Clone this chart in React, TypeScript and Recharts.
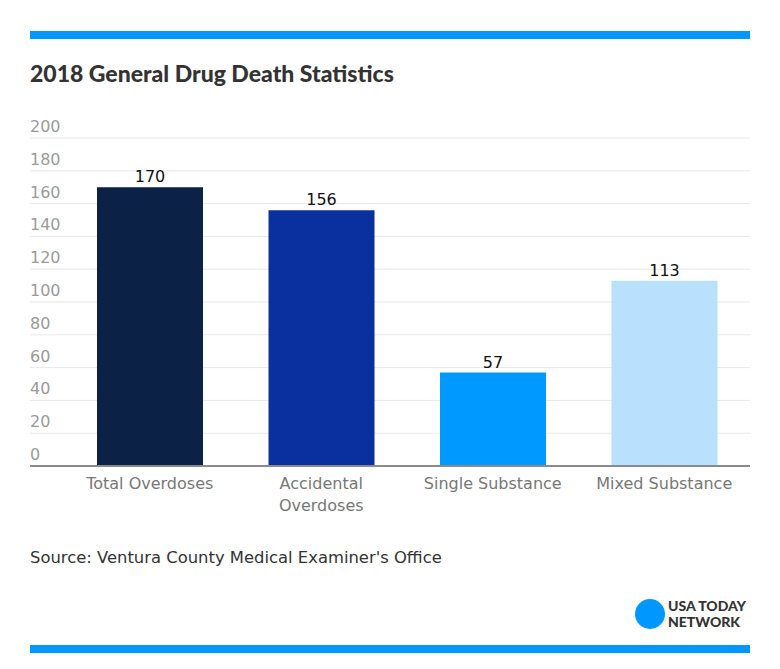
import { BarChart, Bar, XAxis, YAxis, CartesianGrid, LabelList, Cell } from 'recharts';

const categories = ['Total Overdoses', 'Accidental Overdoses', 'Single Substance', 'Mixed Substance'];
const deaths = [170, 156, 57, 113];
const barColors = ['#0c2146', '#0a30a0', '#0099ff', '#b9e0fc'];
const yTicks = [0, 20, 40, 60, 80, 100, 120, 140, 160, 180, 200];

const data = categories.map((name, i) => ({ name, deaths: deaths[i] }));

const FONT = '"DejaVu Sans", sans-serif';

function YTick(props: any) {
  const { y, payload } = props;
  return (
    <text x={30} y={y - 6} textAnchor="start" fill="#9a9a9a" fontSize={16} fontFamily={FONT}>
      {payload.value}
    </text>
  );
}

// wrap long labels at the first space
function wrap(label: string): string[] {
  if (label.length <= 17) return [label];
  const i = label.indexOf(' ');
  return [label.slice(0, i), label.slice(i + 1)];
}

function XTick(props: any) {
  const { x, y, payload } = props;
  const lines = wrap(String(payload.value));
  return (
    <text x={x} y={y + 15} textAnchor="middle" fill="#777" fontSize={16} fontFamily={FONT}>
      {lines.map((l, i) => (
        <tspan key={i} x={x} dy={i === 0 ? 0 : 22}>{l}</tspan>
      ))}
    </text>
  );
}

const logoText = { position: 'absolute' as const, left: 668, fontSize: 14, fontWeight: 900, lineHeight: '14px', color: '#333', fontFamily: 'Lato, sans-serif' };

export default function App() {
  return (
    <div style={{ position: 'absolute', left: 0, top: 0, width: 780, height: 669, background: '#fff', fontFamily: FONT }}>
      <div style={{ position: 'absolute', left: 30, top: 31, width: 720, height: 8, background: '#0098fe' }} />
      <div style={{ position: 'absolute', left: 30, top: 59, fontSize: 23, fontWeight: 900, color: '#333', fontFamily: 'Lato, sans-serif' }}>
        2018 General Drug Death Statistics
      </div>
      <div style={{ position: 'absolute', left: 0, top: 0 }}>
        <BarChart
          width={780}
          height={669}
          data={data}
          margin={{ top: 138, right: 30, left: 30, bottom: 143 }}
          barSize={106}
        >
          <CartesianGrid vertical={false} stroke="#e8e8e8" />
          <XAxis
            dataKey="name"
            height={60}
            padding={{ left: 34, right: 0 }}
            axisLine={{ stroke: '#8a8a8a', strokeWidth: 2 }}
            tickLine={false}
            tick={<XTick />}
            interval={0}
          />
          <YAxis
            width={1}
            mirror
            domain={[0, 200]}
            ticks={yTicks}
            axisLine={false}
            tickLine={false}
            tick={<YTick />}
            interval={0}
          />
          <Bar dataKey="deaths" isAnimationActive={false}>
            {data.map((_, i) => (
              <Cell key={i} fill={barColors[i]} />
            ))}
            <LabelList dataKey="deaths" position="top" offset={5} fill="#111" fontSize={16} fontFamily={FONT} />
          </Bar>
        </BarChart>
      </div>
      <div style={{ position: 'absolute', left: 30, top: 548, fontSize: 16.4, color: '#333' }}>
        Source: Ventura County Medical Examiner's Office
      </div>
      <div style={{ position: 'absolute', left: 635, top: 599, width: 30, height: 30, borderRadius: '50%', background: '#0098fe' }} />
      <div style={{ ...logoText, top: 599 }}>USA TODAY</div>
      <div style={{ ...logoText, top: 615 }}>NETWORK</div>
      <div style={{ position: 'absolute', left: 30, top: 645, width: 720, height: 8, background: '#0098fe' }} />
    </div>
  );
}
